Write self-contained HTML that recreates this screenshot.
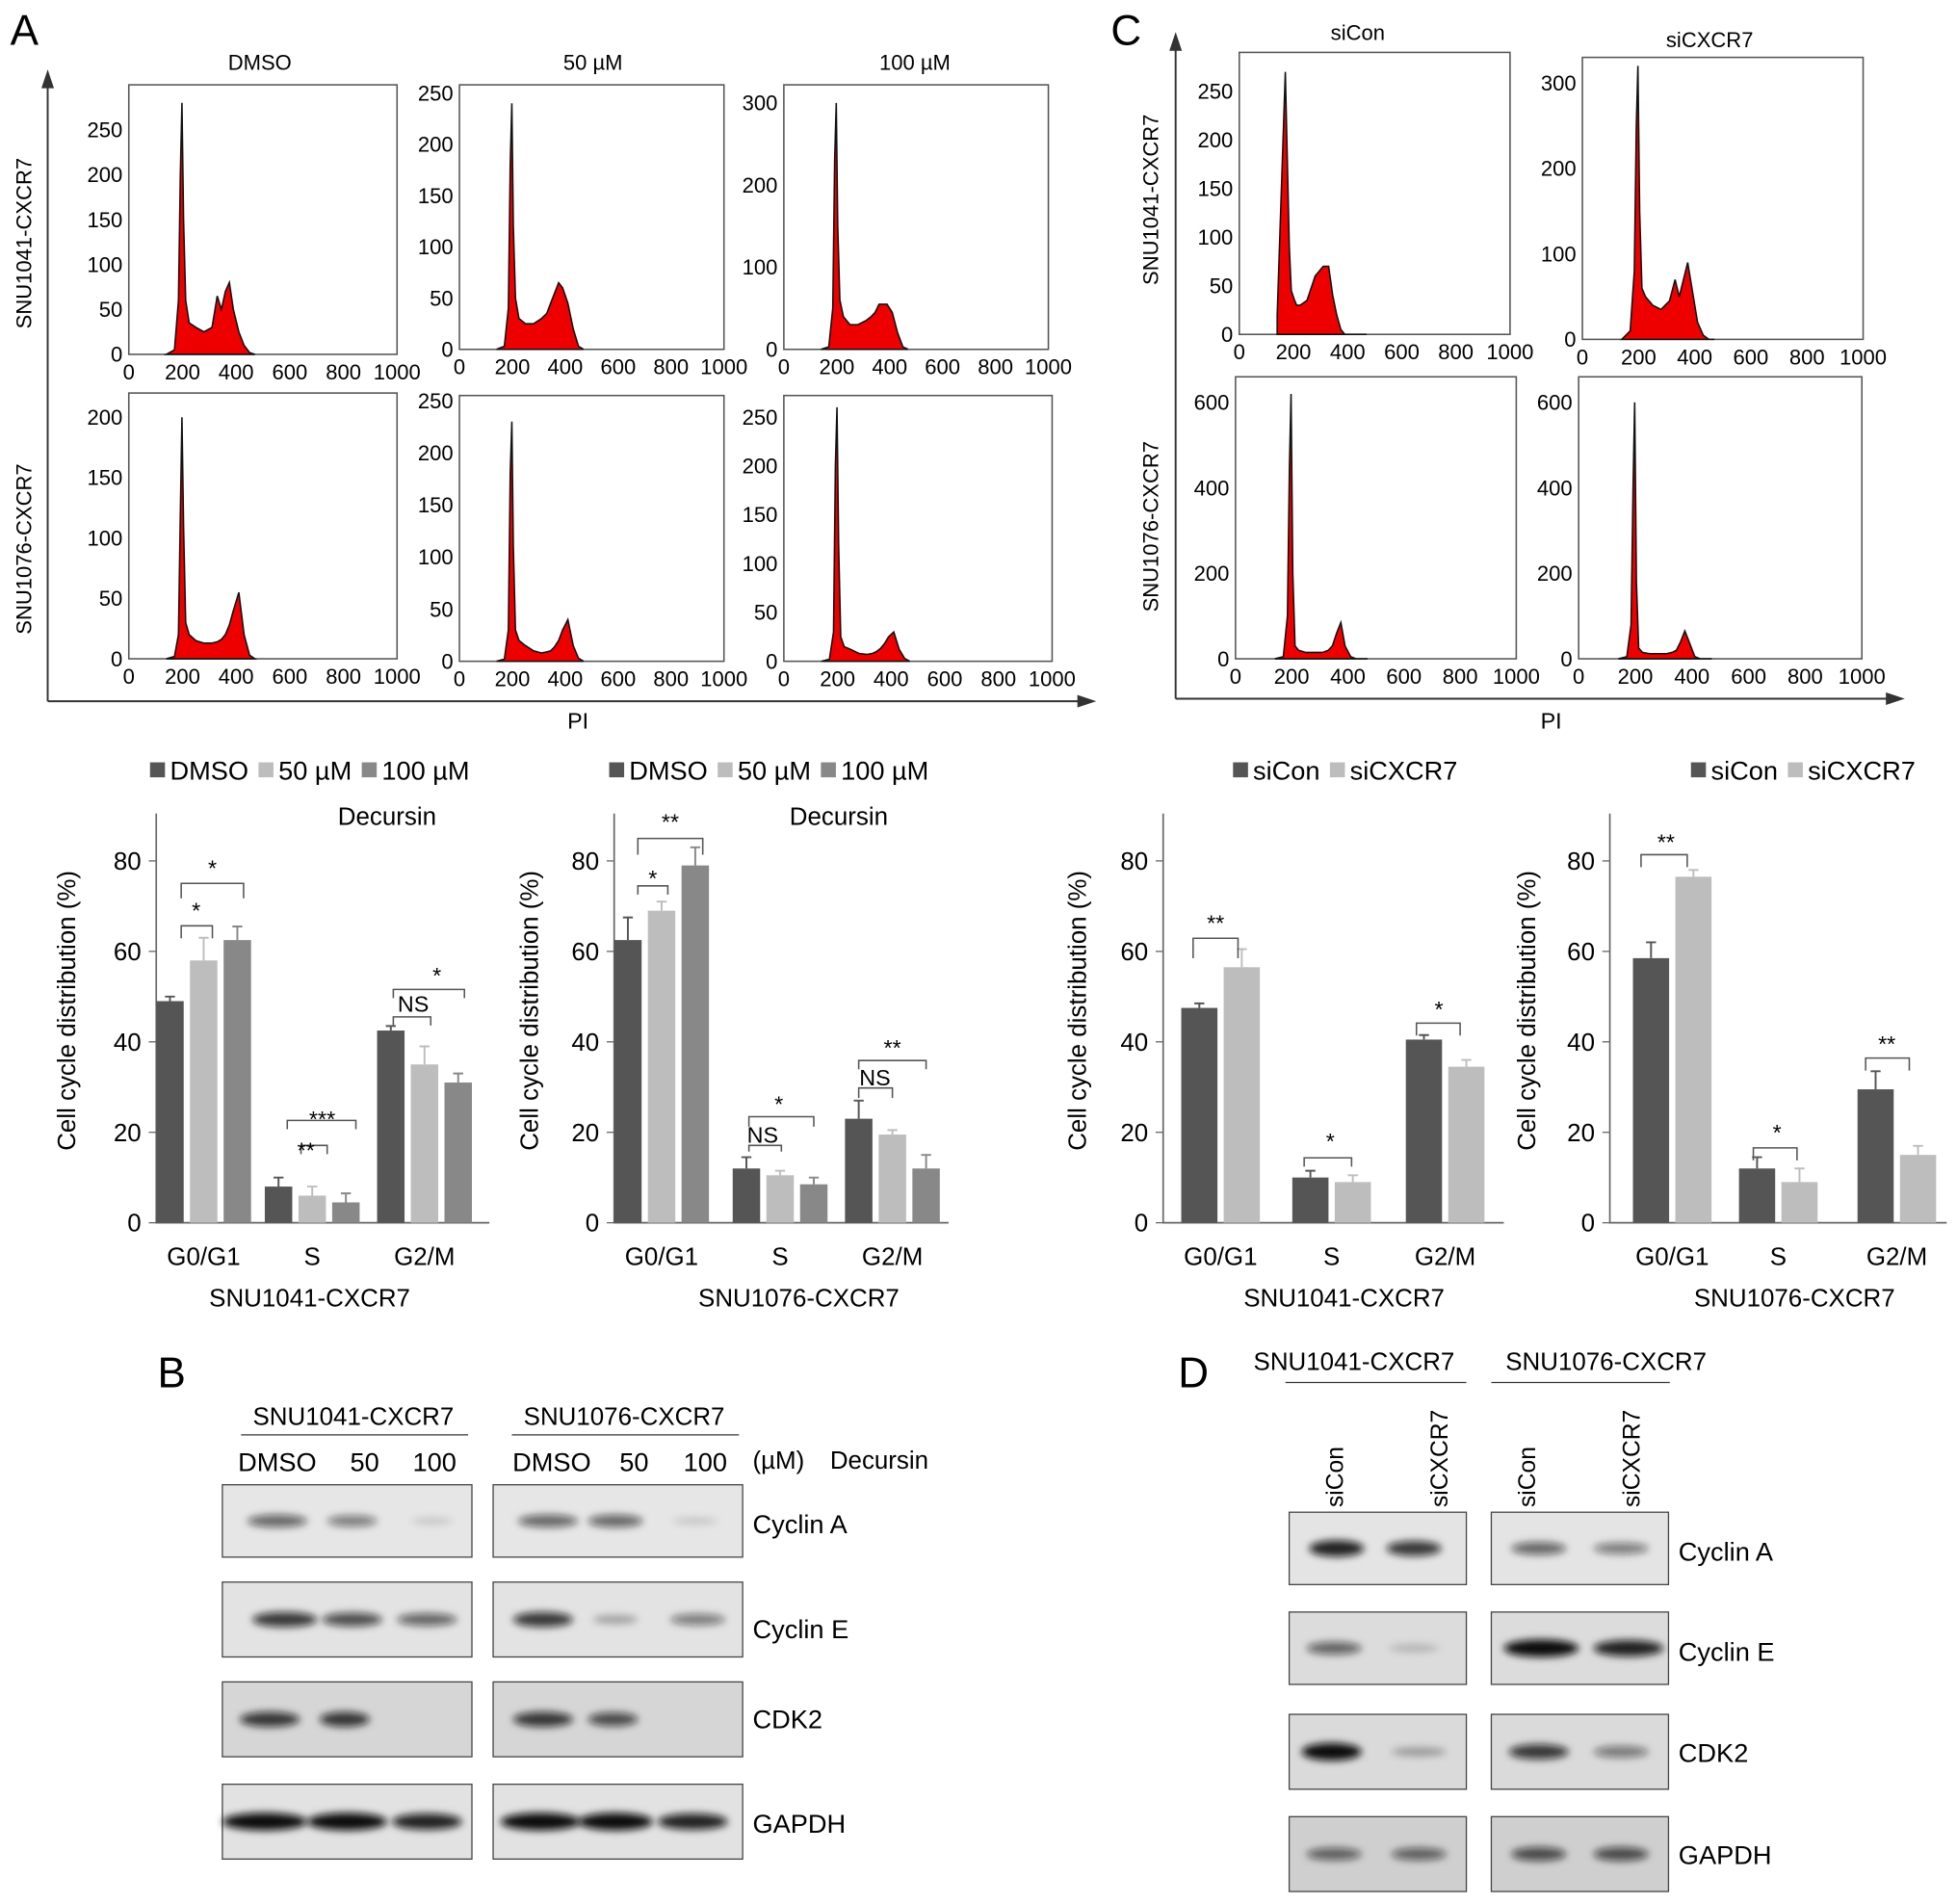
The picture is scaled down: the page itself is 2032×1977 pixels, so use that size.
<!DOCTYPE html>
<html><head><meta charset="utf-8"><style>
html,body{margin:0;padding:0;background:#fff;}
svg{display:block;font-family:"Liberation Sans",Arial,sans-serif;}
</style></head><body>
<svg id="fig" width="2032" height="1977" viewBox="0 0 1568 1526" xmlns="http://www.w3.org/2000/svg">
<defs><filter id="blur" x="-30%" y="-100%" width="160%" height="300%"><feGaussianBlur stdDeviation="3"/></filter></defs>
<g id="static" fill="#000">
 <text x="8" y="36" font-size="34">A</text>
 <text x="890" y="36" font-size="34">C</text>
 <text x="126" y="1112" font-size="34">B</text>
 <text x="944" y="1112" font-size="34">D</text>
 <g stroke="#333" stroke-width="1.5" fill="none">
  <path d="M38 562 V62 M38 562 H870"/><path d="M34 70 L38 58 L42 70 Z M864 558 L876 562 L864 566 Z" fill="#333"/>
 </g>
 <g stroke="#333" stroke-width="1.5" fill="none">
  <path d="M942 560 V32 M942 560 H1518"/><path d="M938 40 L942 28 L946 40 Z M1512 556 L1524 560 L1512 564 Z" fill="#333"/>
 </g>
 <text x="463" y="584" font-size="18" text-anchor="middle">PI</text>
 <text x="1243" y="584" font-size="18" text-anchor="middle">PI</text>
 <text x="208" y="56" font-size="17" text-anchor="middle">DMSO</text>
 <text x="475" y="56" font-size="17" text-anchor="middle">50 µM</text>
 <text x="733" y="56" font-size="17" text-anchor="middle">100 µM</text>
 <text x="1088" y="32" font-size="17" text-anchor="middle">siCon</text>
 <text x="1370" y="38" font-size="17" text-anchor="middle">siCXCR7</text>
 <text transform="translate(25,195) rotate(-90)" font-size="17" text-anchor="middle">SNU1041-CXCR7</text>
 <text transform="translate(25,440) rotate(-90)" font-size="17" text-anchor="middle">SNU1076-CXCR7</text>
 <text transform="translate(928,160) rotate(-90)" font-size="17" text-anchor="middle">SNU1041-CXCR7</text>
 <text transform="translate(928,422) rotate(-90)" font-size="17" text-anchor="middle">SNU1076-CXCR7</text>
</g>
<g id="hists"></g>
<g id="bars"></g>
<g id="blots"></g>
</svg>
<script>
const NS="http://www.w3.org/2000/svg";
function mk(tag,attrs,parent,txt){const e=document.createElementNS(NS,tag);for(const k in attrs)e.setAttribute(k,attrs[k]);if(txt!==undefined)e.textContent=txt;parent.appendChild(e);return e;}

// ---------- Histogram data ----------
const channels=[140,170,185,192,198,204,212,225,250,280,310,330,345,360,375,390,410,430,450,470];
const histA11=[0,5,60,200,280,150,60,35,30,25,30,65,50,70,80,50,25,10,2,0];
const histA12=[0,3,40,180,240,120,50,30,25,25,30,35,45,55,65,60,45,20,3,0];
const histA13=[0,3,50,230,300,150,60,40,30,30,35,40,45,55,55,55,45,20,3,0];
const histA21=[0,2,20,120,200,110,30,20,15,13,13,14,16,20,28,40,55,20,3,0];
const histA22=[0,2,30,180,230,110,30,20,15,10,8,9,10,14,20,30,40,15,3,0];
const histA23=[0,2,30,200,260,120,25,15,12,8,7,8,10,13,18,25,30,12,3,0];
const histC11=[20,270,90,45,40,35,30,30,35,60,70,70,40,20,5,0,0,0,0,0];
const histC12=[0,10,80,250,320,150,60,50,40,35,45,70,50,70,90,60,20,5,0,0];
const histC21=[0,5,100,450,620,200,30,20,15,15,15,20,30,60,85,30,5,0,0,0];
const histC22=[0,5,80,400,600,180,25,15,12,12,12,15,20,40,65,40,5,0,0,0];
const xTicks=[0,200,400,600,800,1000];
const hists=[
 {n:"hist-dmso-snu1041",b:[103,68,318,284],ymax:300,yt:[0,50,100,150,200,250],d:histA11},
 {n:"hist-50um-snu1041",b:[368,68,580,280],ymax:258,yt:[0,50,100,150,200,250],d:histA12},
 {n:"hist-100um-snu1041",b:[628,68,840,280],ymax:322,yt:[0,100,200,300],d:histA13},
 {n:"hist-dmso-snu1076",b:[103,315,318,528],ymax:220,yt:[0,50,100,150,200],d:histA21},
 {n:"hist-50um-snu1076",b:[368,317,580,530],ymax:255,yt:[0,50,100,150,200,250],d:histA22},
 {n:"hist-100um-snu1076",b:[628,317,843,530],ymax:272,yt:[0,50,100,150,200,250],d:histA23},
 {n:"hist-sicon-snu1041",b:[993,42,1210,268],ymax:290,yt:[0,50,100,150,200,250],d:histC11},
 {n:"hist-sicxcr7-snu1041",b:[1268,46,1493,272],ymax:330,yt:[0,100,200,300],d:histC12},
 {n:"hist-sicon-snu1076",b:[990,302,1215,528],ymax:660,yt:[0,200,400,600],d:histC21},
 {n:"hist-sicxcr7-snu1076",b:[1265,302,1492,528],ymax:660,yt:[0,200,400,600],d:histC22}
];
const HG=document.getElementById('hists');
hists.forEach(h=>{
 const [x0,y0,x1,y1]=h.b;
 const sx=v=>x0+(x1-x0)*v/1000, sy=v=>y1-(y1-y0)*v/h.ymax;
 const g=mk('g',{},HG);
 
 
 const box=mk('rect',{x:x0,y:y0,width:x1-x0,height:y1-y0,fill:'none',stroke:'#555','stroke-width':1.2},g);
 
 
 let d='M'+sx(channels[0])+' '+y1;
 channels.forEach((c,i)=>{d+=' L'+sx(c).toFixed(1)+' '+sy(h.d[i]).toFixed(1);});
 d+=' L'+sx(channels[channels.length-1])+' '+y1+' Z';
 const p=mk('path',{d:d,fill:'#ee0000',stroke:'#111','stroke-width':1.2},g);
 
 
 xTicks.forEach(t=>{const tx=mk('text',{x:sx(t),y:y1+20,'font-size':17,'text-anchor':'middle'},g,String(t));
  
  });
 h.yt.forEach(t=>{const tx=mk('text',{x:x0-5,y:sy(t)+6,'font-size':17,'text-anchor':'end'},g,String(t));
  
  });
});

// ---------- Bar chart data ----------
const groups=["G0/G1","S","G2/M"];
const c1Dmso=[49,8,42.5], c1_50=[58,6,35], c1_100=[62.5,4.5,31];
const c1Err=[[1,5,3],[2,2,2],[1,4,2]];
const c2Dmso=[62.5,12,23], c2_50=[69,10.5,19.5], c2_100=[79,8.5,12];
const c2Err=[[5,2,4],[2.5,1,1.5],[4,1,3]];
const c3Con=[47.5,10,40.5], c3Si=[56.5,9,34.5];
const c3Err=[[1,1.5,1],[4,1.5,1.5]];
const c4Con=[58.5,12,29.5], c4Si=[76.5,9,15];
const c4Err=[[3.5,2.5,4],[1.5,3,2]];
const yTicksBar=[0,20,40,60,80];
const cols3=['#555555','#bdbdbd','#888888'], cols2=['#555555','#bdbdbd'];
const charts=[
 {n:"bar-chart-decursin-snu1041",ax:125,right:392,centers:[163,250,340],bw:22,series:[c1Dmso,c1_50,c1_100],err:[0,1,2].map(s=>c1Err.map(r=>r[s])),cols:cols3,names:["DMSO","50 µM","100 µM"],legX:120,title:"SNU1041-CXCR7",tx:248,dec:310,yl:52},
 {n:"bar-chart-decursin-snu1076",ax:492,right:760,centers:[530,625,715],bw:22,series:[c2Dmso,c2_50,c2_100],err:[0,1,2].map(s=>c2Err.map(r=>r[s])),cols:cols3,names:["DMSO","50 µM","100 µM"],legX:488,title:"SNU1076-CXCR7",tx:640,dec:672,yl:423},
 {n:"bar-chart-sirna-snu1041",ax:932,right:1205,centers:[978,1067,1158],bw:29,series:[c3Con,c3Si],err:[c3Err[0],c3Err[1]],cols:cols2,names:["siCon","siCXCR7"],legX:988,title:"SNU1041-CXCR7",tx:1077,yl:862},
 {n:"bar-chart-sirna-snu1076",ax:1290,right:1560,centers:[1340,1425,1520],bw:29,series:[c4Con,c4Si],err:[c4Err[0],c4Err[1]],cols:cols2,names:["siCon","siCXCR7"],legX:1355,title:"SNU1076-CXCR7",tx:1438,yl:1222}
];
const BG=document.getElementById('bars');
const base=980, top80=690;
const sy=v=>base-(base-top80)*v/80;
charts.forEach(c=>{
 const g=mk('g',{},BG);
 
 
 const ax=mk('path',{d:`M${c.ax} 652 V${base} H${c.right}`,stroke:'#666','stroke-width':1.3,fill:'none'},g);
 
 
 yTicksBar.forEach(t=>{
  const tk=mk('line',{x1:c.ax-6,x2:c.ax,y1:sy(t),y2:sy(t),stroke:'#666'},g);
  
  
  const tl=mk('text',{x:c.ax-12,y:sy(t)+7,'font-size':20,'text-anchor':'end'},g,String(t));
  
  
 });
 const ns=c.series.length;
 c.series.forEach((ser,s)=>{
  ser.forEach((v,i)=>{
   const x=c.centers[i]-ns*(c.bw+5)/2+s*(c.bw+5)+2.5;
   const r=mk('rect',{x:x,y:sy(v),width:c.bw,height:base-sy(v),fill:c.cols[s]},g);
   
   
   const e=c.err[s][i], cx=x+c.bw/2;
   const eb=mk('path',{d:`M${cx} ${sy(v)} V${sy(v+e)} M${cx-4} ${sy(v+e)} H${cx+4}`,stroke:c.cols[s],'stroke-width':1.5,fill:'none'},g);
   
   
  });
 });
 groups.forEach((gn,i)=>{
  const t=mk('text',{x:c.centers[i],y:1014,'font-size':20,'text-anchor':'middle'},g,gn);
  
  
 });
 const tt=mk('text',{x:c.tx,y:1047,'font-size':20,'text-anchor':'middle'},g,c.title);
 
 
 const yl=mk('text',{transform:`translate(${c.yl+8},810) rotate(-90)`,'font-size':20,'text-anchor':'middle'},g,'Cell cycle distribution (%)');
 
 
 if(c.dec){const dt=mk('text',{x:c.dec,y:661,'font-size':20,'text-anchor':'middle'},g,'Decursin');
  
  }
 let lx=c.legX;
 c.names.forEach((nm,s)=>{
  const lg=mk('g',{},g);
  
  
  mk('rect',{x:lx,y:611,width:12,height:12,fill:c.cols[s]},lg);
  const t=mk('text',{x:lx+16,y:625,'font-size':21},lg,nm);
  let w=nm.length*12; try{w=t.getComputedTextLength();}catch(e){}
  lx+=16+w+8;
 });
});
// significance brackets (static approx)
const sig=[
 [145,195,708,720,'*',170,704],[145,170,742,752,'*',157,738],
 [241,262,918,925,'**',245,930],[230,285,898,905,'***',258,905],
 [315,345,815,822,'NS',331,813],[315,372,793,800,'*',350,790],
 [511,563,672,685,'**',537,667],[511,535,710,717,'*',523,712],
 [600,652,895,903,'*',624,893],[600,626,918,923,'NS',611,918],
 [688,742,850,857,'**',715,848],[688,715,872,880,'NS',701,872],
 [956,992,752,768,'**',974,748],[1045,1083,928,935,'*',1066,923],
 [1135,1170,820,830,'*',1153,817],[1315,1352,685,695,'**',1335,683],
 [1405,1440,920,930,'*',1424,916],[1495,1530,848,858,'**',1512,845]
];
sig.forEach(s=>{
 const g=mk('g',{},BG);
 
 
 mk('path',{d:`M${s[0]} ${s[3]} V${s[2]} H${s[1]} V${s[3]}`,stroke:'#555','stroke-width':1.2,fill:'none'},g);
 mk('text',{x:s[5],y:s[6]-2,'font-size':18,'text-anchor':'middle'},g,s[4]);
});

// ---------- Western blots ----------
const BL=document.getElementById('blots');
function txt(x,y,s,name,size,anchor,rot){const t=mk('text',{x:x,y:y,'font-size':size||21,'text-anchor':anchor||'start'},BL,s);
 if(rot)t.setAttribute('transform',`rotate(-90 ${x} ${y})`);
 
 }
txt(283,1142,'SNU1041-CXCR7','cell-line-header',20,'middle');
txt(500,1142,'SNU1076-CXCR7','cell-line-header',20,'middle');
mk('path',{d:'M193 1150 H375 M410 1150 H592 M1030 1108 H1175 M1195 1108 H1338',stroke:'#333'},BL);
[['DMSO',222],['50',292],['100',348],['DMSO',442],['50',508],['100',565]].forEach(a=>txt(a[1],1179,a[0],'dose-label',21,'middle'));
txt(603,1177,'(µM)','unit-label',20);txt(665,1177,'Decursin','treatment-label',20);
txt(1085,1098,'SNU1041-CXCR7','cell-line-header',20,'middle');
txt(1287,1098,'SNU1076-CXCR7','cell-line-header',20,'middle');
[['siCon',1076],['siCXCR7',1160],['siCon',1230],['siCXCR7',1314]].forEach(a=>txt(a[1],1208,a[0],'lane-label',19,'start',true));
function blot(x,y,w,h,bg,bands,name){
 const g=mk('g',{},BL);
 
 
 mk('rect',{x:x,y:y,width:w,height:h,fill:bg,stroke:'#444','stroke-width':1},g);
 bands.forEach(b=>{mk('ellipse',{cx:x+b[0],cy:y+h/2+(b[3]||0),rx:b[1],ry:b[2]*0.5+2,fill:'#111','fill-opacity':b[2]/10,filter:'url(#blur)'},g);});
}
const Brows=[[1190,58,'cyclin-a'],[1268,60,'cyclin-e'],[1348,60,'cdk2'],[1430,60,'gapdh']];
const BbandsL=[[[44,24,6],[104,20,5],[168,16,1.5]],[[50,26,8],[104,24,7],[164,24,6]],[[38,24,8],[98,20,8]],[[34,34,10,0],[100,32,10],[164,28,9]]];
const BbandsR=[[[44,24,6],[98,22,6],[162,18,1.5]],[[40,24,8],[98,18,3],[164,22,5]],[[40,24,8],[96,20,7]],[[38,32,10],[98,30,10],[160,28,9]]];
const bgB=['#e6e6e6','#e3e3e3','#d6d6d6','#e2e2e2'];
Brows.forEach((r,i)=>{blot(178,r[0],200,r[1],bgB[i],BbandsL[i],'blot-b-snu1041-'+r[2]);blot(395,r[0],200,r[1],bgB[i],BbandsR[i],'blot-b-snu1076-'+r[2]);});
txt(603,1229,'Cyclin A','blot-label');txt(603,1313,'Cyclin E','blot-label');txt(603,1385,'CDK2','blot-label');txt(603,1469,'GAPDH','blot-label');
const Drows=[[1212,58,'cyclin-a'],[1292,58,'cyclin-e'],[1374,60,'cdk2'],[1456,60,'gapdh']];
const DbandsL=[[[38,22,9],[100,22,8]],[[36,22,6],[100,20,2]],[[34,24,10],[104,22,3]],[[36,22,6],[104,22,6]]];
const DbandsR=[[[38,22,6],[104,22,5]],[[40,30,10],[110,28,9]],[[38,24,8],[104,22,5]],[[38,22,7],[104,22,7]]];
const bgD=['#e4e4e4','#dcdcdc','#dadada','#cfcfcf'];
Drows.forEach((r,i)=>{blot(1033,r[0],142,r[1],bgD[i],DbandsL[i],'blot-d-snu1041-'+r[2]);blot(1195,r[0],142,r[1],bgD[i],DbandsR[i],'blot-d-snu1076-'+r[2]);});
txt(1345,1251,'Cyclin A','blot-label');txt(1345,1331,'Cyclin E','blot-label');txt(1345,1412,'CDK2','blot-label');txt(1345,1494,'GAPDH','blot-label');
</script>
</body></html>
